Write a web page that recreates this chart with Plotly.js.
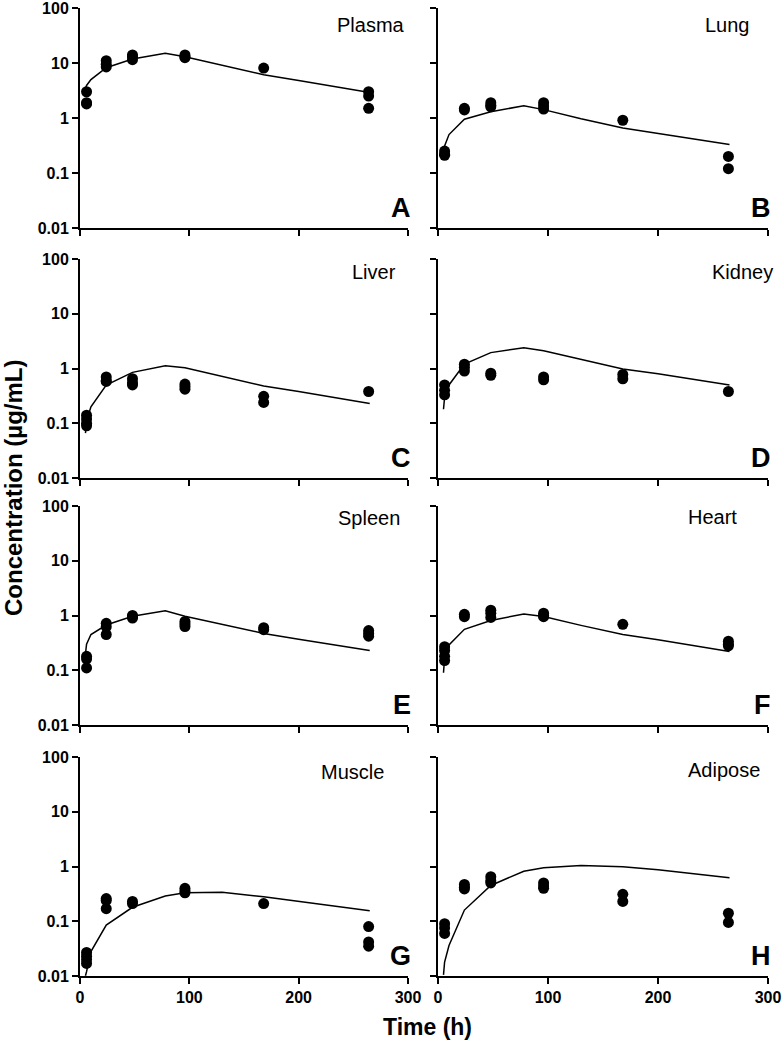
<!DOCTYPE html>
<html>
<head>
<meta charset="utf-8">
<script src="https://cdn.plot.ly/plotly-3.0.1.min.js"></script>
<style>
body { margin: 0; background: #fff; }
#plotArea { width: 782px; height: 1044px; }
</style>
</head>
<body>
<div id="plotArea"></div>
<script>
// panel names and letters
var tissues = ["Plasma", "Lung", "Liver", "Kidney", "Spleen", "Heart", "Muscle", "Adipose"];
var letters = ["A", "B", "C", "D", "E", "F", "G", "H"];

// observed data, time (h) and concentration (ug/mL)
var plasmaTime = [6, 6, 6, 24, 24, 24, 48, 48, 48, 96, 96, 96, 168, 264, 264, 264];
var plasmaConc = [3.0, 1.9, 1.8, 11, 9.5, 8.5, 14, 13, 11.5, 14, 12.5, 13, 8.1, 3.0, 2.5, 1.5];
var lungTime = [6, 6, 6, 24, 24, 48, 48, 48, 96, 96, 96, 168, 264, 264];
var lungConc = [0.25, 0.22, 0.21, 1.5, 1.4, 1.9, 1.7, 1.6, 1.9, 1.65, 1.45, 0.91, 0.2, 0.12];
var liverTime = [6, 6, 6, 6, 24, 24, 24, 48, 48, 48, 96, 96, 96, 168, 168, 264];
var liverConc = [0.14, 0.12, 0.1, 0.09, 0.7, 0.6, 0.58, 0.65, 0.55, 0.5, 0.52, 0.47, 0.42, 0.31, 0.24, 0.38];
var kidneyTime = [6, 6, 6, 24, 24, 24, 48, 48, 96, 96, 168, 168, 264];
var kidneyConc = [0.5, 0.4, 0.33, 1.2, 1.05, 0.9, 0.82, 0.75, 0.7, 0.62, 0.78, 0.65, 0.38];
var spleenTime = [6, 6, 6, 24, 24, 24, 48, 48, 48, 96, 96, 96, 168, 168, 264, 264, 264];
var spleenConc = [0.18, 0.16, 0.11, 0.72, 0.62, 0.45, 1.0, 0.95, 0.9, 0.78, 0.7, 0.63, 0.6, 0.55, 0.53, 0.47, 0.42];
var heartTime = [6, 6, 6, 6, 24, 24, 48, 48, 48, 96, 96, 96, 168, 264, 264, 264];
var heartConc = [0.27, 0.23, 0.18, 0.15, 1.05, 0.95, 1.25, 1.1, 0.92, 1.1, 1.0, 0.95, 0.69, 0.34, 0.3, 0.28];
var muscleTime = [6, 6, 6, 6, 24, 24, 24, 48, 48, 96, 96, 96, 168, 264, 264, 264];
var muscleConc = [0.027, 0.023, 0.02, 0.017, 0.26, 0.24, 0.17, 0.23, 0.21, 0.4, 0.36, 0.33, 0.21, 0.08, 0.042, 0.035];
var adiposeTime = [6, 6, 6, 24, 24, 24, 48, 48, 48, 96, 96, 96, 168, 168, 264, 264];
var adiposeConc = [0.09, 0.075, 0.06, 0.47, 0.42, 0.39, 0.65, 0.55, 0.5, 0.5, 0.44, 0.4, 0.31, 0.23, 0.14, 0.095];

// model prediction
var fitTime = [5, 6, 10, 24, 48, 78, 96, 130, 168, 200, 265];
var plasmaFit = [3.5, 3.9, 5.0, 8.2, 11.8, 15, 13, 9, 6.1, 4.8, 2.9];
var lungFit = [0.25, 0.31, 0.5, 0.95, 1.3, 1.67, 1.42, 0.97, 0.66, 0.52, 0.33];
var liverFit = [0.066, 0.11, 0.2, 0.5, 0.85, 1.12, 1.03, 0.72, 0.48, 0.38, 0.23];
var kidneyFit = [0.18, 0.3, 0.5, 1.2, 1.95, 2.4, 2.1, 1.45, 0.98, 0.8, 0.5];
var spleenFit = [0.2, 0.3, 0.45, 0.67, 0.97, 1.22, 0.97, 0.68, 0.47, 0.37, 0.23];
var heartFit = [0.09, 0.17, 0.29, 0.56, 0.81, 1.07, 0.96, 0.66, 0.45, 0.36, 0.22];
var muscleFit = [0.0101, 0.012, 0.028, 0.085, 0.18, 0.29, 0.33, 0.34, 0.28, 0.23, 0.155];
var adiposeFit = [0.0105, 0.018, 0.036, 0.16, 0.45, 0.82, 0.95, 1.04, 0.99, 0.87, 0.62];

var obsTime = [plasmaTime, lungTime, liverTime, kidneyTime, spleenTime, heartTime, muscleTime, adiposeTime];
var obsConc = [plasmaConc, lungConc, liverConc, kidneyConc, spleenConc, heartConc, muscleConc, adiposeConc];
var fits = [plasmaFit, lungFit, liverFit, kidneyFit, spleenFit, heartFit, muscleFit, adiposeFit];

// right end of the name label in each panel, px past the 300 h edge
var nameShift = [-1, -16, -10, 7, -6, -29, -22, -6];
var nameY = [1.69, 1.69, 1.76, 1.76, 1.78, 1.8, 1.73, 1.76];

var W = 782, H = 1044;
var colPx = [[80, 408], [438, 768]];
var rowPx = [[8, 228], [259, 478], [506, 725], [757, 976]];

var traces = [];
var layout = {
    width: W,
    height: H,
    margin: {l: 0, r: 0, t: 0, b: 0},
    paper_bgcolor: "#fff",
    plot_bgcolor: "#fff",
    showlegend: false,
    font: {family: "Liberation Sans, Arial, sans-serif", color: "#000"},
    annotations: []
};

for (var i = 0; i < 8; i++) {
    var n = i === 0 ? "" : String(i + 1);
    var col = i % 2, row = Math.floor(i / 2);
    var xa = "x" + n, ya = "y" + n;

    traces.push({
        x: fitTime, y: fits[i], xaxis: xa, yaxis: ya,
        mode: "lines", line: {color: "#000", width: 1.5}
    });
    traces.push({
        x: obsTime[i], y: obsConc[i], xaxis: xa, yaxis: ya,
        mode: "markers", marker: {color: "#000", size: 11}, cliponaxis: false
    });

    layout["xaxis" + n] = {
        domain: [colPx[col][0] / W, colPx[col][1] / W],
        anchor: ya,
        range: [0, 300],
        tickvals: [0, 100, 200, 300],
        showticklabels: row === 3,
        ticks: "outside", ticklen: 6, tickwidth: 2, tickcolor: "#000",
        showline: true, linewidth: 2, linecolor: "#000",
        showgrid: false, zeroline: false,
        ticklabeloverflow: "allow",
        tickfont: {size: 16, weight: "bold"}
    };
    layout["yaxis" + n] = {
        domain: [1 - rowPx[row][1] / H, 1 - rowPx[row][0] / H],
        anchor: xa,
        type: "log",
        range: [-2, 2],
        tickvals: [0.01, 0.1, 1, 10, 100],
        ticktext: ["0.01", "0.1", "1", "10", "100"],
        showticklabels: col === 0,
        ticks: "outside", ticklen: 6, tickwidth: 2, tickcolor: "#000",
        showline: true, linewidth: 2, linecolor: "#000",
        showgrid: false, zeroline: false,
        ticklabeloverflow: "allow",
        tickfont: {size: 16, weight: "bold"}
    };

    layout.annotations.push({
        xref: xa, yref: ya, x: 300, y: nameY[i], xshift: nameShift[i],
        xanchor: "right", yanchor: "middle", showarrow: false,
        text: tissues[i], font: {size: 20}
    });
    layout.annotations.push({
        xref: xa, yref: ya, x: 300, y: -1.64, xshift: 5,
        xanchor: "right", yanchor: "middle", showarrow: false,
        text: letters[i], font: {size: 27, weight: "bold"}
    });
}

layout.annotations.push({
    xref: "paper", yref: "paper", x: 14 / W, y: 1 - 488 / H,
    xanchor: "center", yanchor: "middle", textangle: -90, showarrow: false,
    text: "Concentration (µg/mL)", font: {size: 24, weight: "bold"}
});
layout.annotations.push({
    xref: "paper", yref: "paper", x: 427 / W, y: 1 - 1027 / H,
    xanchor: "center", yanchor: "middle", showarrow: false,
    text: "Time (h)", font: {size: 23, weight: "bold"}
});

Plotly.newPlot("plotArea", traces, layout, {staticPlot: true});
</script>
</body>
</html>
